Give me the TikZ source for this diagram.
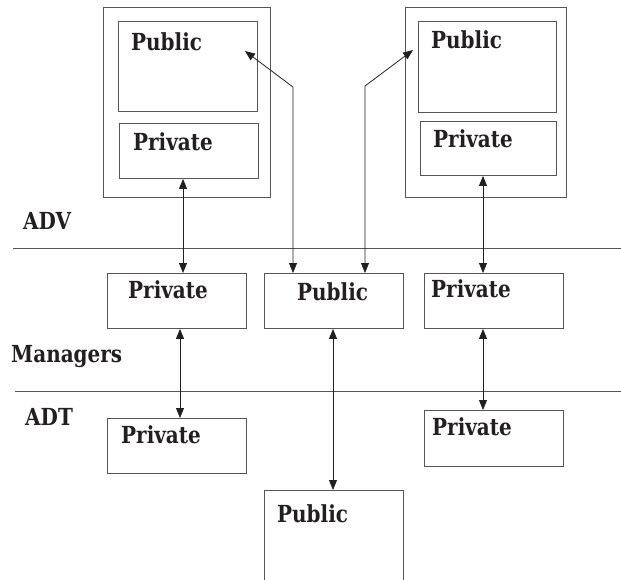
\documentclass[tikz,border=0pt]{standalone}
\usepackage{fontspec}
\setmainfont[FakeStretch=0.85,BoldFeatures={FakeStretch=0.85}]{DejaVu Serif}
\usetikzlibrary{arrows.meta}
\definecolor{ink}{HTML}{231F20}
\definecolor{rule}{HTML}{555555}
\tikzset{
  box/.style={draw=rule, line width=0.9pt, inner sep=0pt, anchor=north west},
  lbl/.style={anchor=base west, inner sep=0pt, text=ink, font=\fontsize{23.5}{25}\selectfont\bfseries},
  link/.style={draw=ink, line width=0.8pt, {Triangle[length=10pt,width=8pt]}-{Triangle[length=10pt,width=8pt]}},
  sep/.style={draw=rule, line width=0.9pt}
}
\newcommand{\boxat}[5]{\node[box, minimum width=#4pt, minimum height=#5pt] (#1) at (#2,#3) {};}
\begin{document}
\begin{tikzpicture}[x=1pt, y=-1pt]
\useasboundingbox (0,0) rectangle (621,579);

% ADV layer: two containers, each with a public and a private part
\boxat{outerL}{103}{7}{167}{190}
\boxat{pubL}{118}{21}{139}{90}
\boxat{privL}{119}{123}{139}{55}
\boxat{outerR}{405}{7}{161}{190}
\boxat{pubR}{418}{21}{138}{91}
\boxat{privR}{420}{121}{136}{54}

% layer separators
\coordinate (s1a) at (13,248);  \coordinate (s1b) at (621,248);
\coordinate (s2a) at (15,391);  \coordinate (s2b) at (621,391);
\draw[sep] (s1a) -- (s1b);
\draw[sep] (s2a) -- (s2b);

% Managers layer
\boxat{mprivL}{107}{273}{139}{55}
\boxat{mpub}{264}{273}{139}{55}
\boxat{mprivR}{424}{273}{139}{55}

% ADT layer
\boxat{tprivL}{107}{418}{139}{55}
\boxat{tprivR}{424}{410}{139}{56}
\node[inner sep=0pt, minimum width=139pt, minimum height=90pt, anchor=north west] (tpub) at (264,490) {};
\draw[rule, line width=0.9pt] (tpub.south west) -- (tpub.north west) -- (tpub.north east) -- (tpub.south east);

% labels
\node[lbl] (tPubL) at (131,50) {Public};
\node[lbl] (tPrivL) at (133,150) {Private};
\node[lbl] (tPubR) at (431,48) {Public};
\node[lbl] (tPrivR) at (433,147) {Private};
\node[lbl] (tADV) at (23,229) {ADV};
\node[lbl] (tMPrivL) at (128,298) {Private};
\node[lbl] (tMPub) at (297,300) {Public};
\node[lbl] (tMPrivR) at (431,297) {Private};
\node[lbl] (tMan) at (11,362) {Managers};
\node[lbl] (tADT) at (25,425) {ADT};
\node[lbl] (tTPrivL) at (121,443) {Private};
\node[lbl] (tTPrivR) at (432,435) {Private};
\node[lbl] (tTPub) at (277,522) {Public};

% bends of the links between the middle public part and the ADV public parts
\coordinate (bendL) at (293,87);
\coordinate (tipL) at (245,51);
\coordinate (bendR) at (365,86);
\coordinate (tipR) at (413,50);

% links
\draw[link] ([xshift=64pt]privL.south west) -- ([xshift=76pt]mprivL.north west);
\draw[link] ([xshift=73pt]mprivL.south west) -- ([xshift=73pt]tprivL.north west);
\draw[link] ([xshift=63pt]privR.south west) -- ([xshift=59pt]mprivR.north west);
\draw[link] ([xshift=59pt]mprivR.south west) -- ([xshift=59pt]tprivR.north west);
\draw[link] ([xshift=69pt]mpub.south west) -- ([xshift=69pt]tpub.north west);
\draw[link] (tipL) -- (bendL) -- ([xshift=29pt]mpub.north west);
\draw[link] (tipR) -- (bendR) -- ([xshift=101pt]mpub.north west);
\end{tikzpicture}
\end{document}
